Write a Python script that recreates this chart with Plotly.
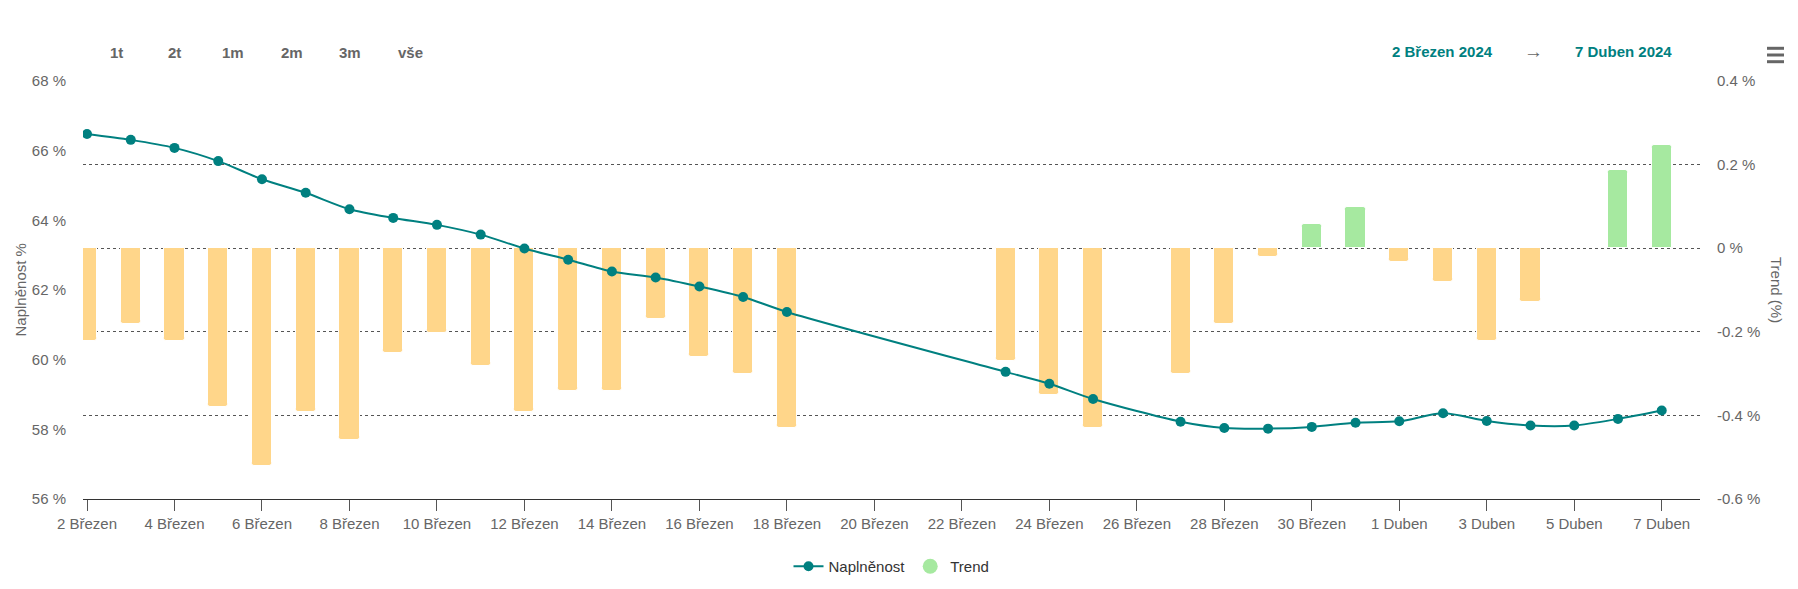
import plotly.graph_objects as go

# ---------------- data ----------------
dates = [
    "2024-03-02", "2024-03-03", "2024-03-04", "2024-03-05", "2024-03-06",
    "2024-03-07", "2024-03-08", "2024-03-09", "2024-03-10", "2024-03-11",
    "2024-03-12", "2024-03-13", "2024-03-14", "2024-03-15", "2024-03-16",
    "2024-03-17", "2024-03-18", "2024-03-23", "2024-03-24", "2024-03-25",
    "2024-03-27", "2024-03-28", "2024-03-29", "2024-03-30", "2024-03-31",
    "2024-04-01", "2024-04-02", "2024-04-03", "2024-04-04", "2024-04-05",
    "2024-04-06", "2024-04-07",
]
naplnenost = [
    66.48, 66.31, 66.08, 65.70, 65.18,
    64.79, 64.32, 64.07, 63.87, 63.59,
    63.19, 62.87, 62.53, 62.36, 62.10,
    61.80, 61.37, 59.65, 59.31, 58.87,
    58.22, 58.04, 58.02, 58.07, 58.19,
    58.23, 58.46, 58.24, 58.11, 58.11,
    58.30, 58.54,
]
trend = [
    -0.221, -0.181, -0.221, -0.379, -0.520,
    -0.391, -0.459, -0.250, -0.202, -0.281,
    -0.391, -0.342, -0.342, -0.170, -0.261,
    -0.301, -0.431, -0.270, -0.350, -0.431,
    -0.301, -0.181, -0.021, 0.058, 0.099,
    -0.033, -0.081, -0.222, -0.129, None,
    0.187, 0.247,
]
tick_dates = [
    "2024-03-02", "2024-03-04", "2024-03-06", "2024-03-08", "2024-03-10",
    "2024-03-12", "2024-03-14", "2024-03-16", "2024-03-18", "2024-03-20",
    "2024-03-22", "2024-03-24", "2024-03-26", "2024-03-28", "2024-03-30",
    "2024-04-01", "2024-04-03", "2024-04-05", "2024-04-07",
]
tick_labels = [
    "2 Březen", "4 Březen", "6 Březen", "8 Březen", "10 Březen",
    "12 Březen", "14 Březen", "16 Březen", "18 Březen", "20 Březen",
    "22 Březen", "24 Březen", "26 Březen", "28 Březen", "30 Březen",
    "1 Duben", "3 Duben", "5 Duben", "7 Duben",
]
left_ticks = [56, 58, 60, 62, 64, 66, 68]
left_labels = ["56 %", "58 %", "60 %", "62 %", "64 %", "66 %", "68 %"]
right_ticks = [-0.6, -0.4, -0.2, 0, 0.2, 0.4]
right_labels = ["-0.6 %", "-0.4 %", "-0.2 %", "0 %", "0.2 %", "0.4 %"]
range_buttons = ["1t", "2t", "1m", "2m", "3m", "vše"]
date_from = "2 Březen 2024"
date_to = "7 Duben 2024"

# ---------------- style ----------------
# page body has an 8px margin, so the figure sits at (8, 8) in the window
OFF = 8
W, H = 1798 - OFF, 589 - OFF
PL, PR, PT, PB = 83, 1700, 81, 499          # plot box in window pixels
ML, MT = PL - OFF, PT - OFF
MR, MB = W - (PR - OFF), H - (PB - OFF)
PW, PH = W - ML - MR, H - MT - MB
TEAL = "#008080"
ORANGE = "#FFD68A"
GREEN = "#A6E9A0"
GREY = "#666666"
FONT = "Arial, Liberation Sans, sans-serif"


def px_x(px):
    return (px - PL) / PW


def px_y(py):
    return (PB - py) / PH


bar_colors = [GREEN if (v is not None and v > 0) else ORANGE for v in trend]

fig = go.Figure()

fig.add_trace(go.Bar(
    x=dates, y=trend, yaxis="y", name="Trend",
    marker=dict(color=bar_colors, line=dict(color="white", width=1), cornerradius=3),
    width=0.46 * 86400000, showlegend=False, hoverinfo="x+y",
))
fig.add_trace(go.Scatter(
    x=dates, y=naplnenost, yaxis="y2", name="Naplněnost",
    mode="lines+markers",
    line=dict(color=TEAL, width=2, shape="spline", smoothing=0.8),
    marker=dict(color=TEAL, size=10),
))
# legend entry for Trend (circle symbol like the original)
fig.add_trace(go.Scatter(
    x=[None], y=[None], yaxis="y2", name="Trend", mode="markers",
    marker=dict(color=GREEN, size=15, symbol="circle"),
))

annotations = []
button_x = [116.5, 174.5, 233, 291.5, 350, 410]
for lbl, bx in zip(range_buttons, button_x):
    annotations.append(dict(
        text=lbl, x=px_x(bx), y=px_y(52.3), xref="paper", yref="paper",
        showarrow=False, xanchor="center", yanchor="middle",
        font=dict(family=FONT, size=15, color=GREY, weight="bold"),
    ))
annotations += [
    dict(text=date_from, x=px_x(1442.5), y=px_y(51.7), xref="paper", yref="paper",
         showarrow=False, xanchor="center", yanchor="middle",
         font=dict(family=FONT, size=15, color=TEAL, weight="bold")),
    dict(text="→", x=px_x(1533), y=px_y(51.7), xref="paper", yref="paper",
         showarrow=False, xanchor="center", yanchor="middle",
         font=dict(family=FONT, size=19, color=GREY)),
    dict(text=date_to, x=px_x(1623.3), y=px_y(51.7), xref="paper", yref="paper",
         showarrow=False, xanchor="center", yanchor="middle",
         font=dict(family=FONT, size=15, color=TEAL, weight="bold")),
    dict(text="Naplněnost %", x=px_x(OFF + 1), y=0.5, xref="paper", yref="paper",
         showarrow=False, textangle=-90, xanchor="left", yanchor="middle",
         font=dict(family=FONT, size=15, color=GREY)),
    dict(text="Trend (%)", x=px_x(1777), y=0.5, xref="paper", yref="paper",
         showarrow=False, textangle=90, xanchor="center", yanchor="middle",
         font=dict(family=FONT, size=15, color=GREY)),
]

shapes = []
for hy in [48.3, 55, 61.7]:
    shapes.append(dict(
        type="line", xref="paper", yref="paper",
        x0=px_x(1767), x1=px_x(1784), y0=px_y(hy), y1=px_y(hy),
        line=dict(color=GREY, width=3),
    ))

fig.update_layout(
    width=W, height=H,
    margin=dict(l=ML, r=MR, t=MT, b=MB, autoexpand=False),
    paper_bgcolor="white", plot_bgcolor="white",
    font=dict(family=FONT, size=15, color=GREY),
    bargap=0,
    xaxis=dict(
        type="date",
        range=["2024-03-01 21:48", "2024-04-07 21:00"],
        tickvals=tick_dates, ticktext=tick_labels,
        ticks="outside", ticklen=11, tickcolor="#555555", tickwidth=1,
        showline=True, linecolor="#333333", linewidth=1,
        showgrid=False, zeroline=False,
        tickfont=dict(family=FONT, size=15, color=GREY),
    ),
    yaxis=dict(
        side="right", range=[-0.6, 0.4],
        tickvals=right_ticks, ticktext=right_labels,
        showgrid=True, gridcolor="#555555", gridwidth=1, griddash="dot",
        zeroline=False, ticks="", ticklabelstandoff=16,
        tickfont=dict(family=FONT, size=15, color=GREY),
    ),
    yaxis2=dict(
        side="left", overlaying="y", range=[56, 68],
        tickvals=left_ticks, ticktext=left_labels,
        showgrid=False, zeroline=False, ticks="", ticklabelstandoff=16,
        tickfont=dict(family=FONT, size=15, color=GREY),
    ),
    legend=dict(
        orientation="h", x=0.5, xanchor="center", y=px_y(566.5), yanchor="middle",
        font=dict(family=FONT, size=15, color="#333333"),
        itemwidth=30, traceorder="normal",
    ),
    annotations=annotations,
    shapes=shapes,
    hovermode="x",
)

fig.write_html("out.html")
